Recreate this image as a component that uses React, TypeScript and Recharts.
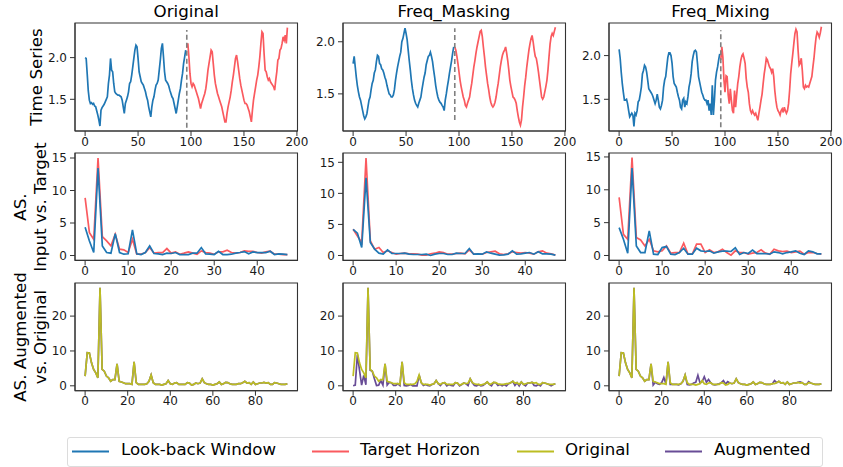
import React from 'react';
import { LineChart, Line, XAxis, YAxis, ReferenceArea, ReferenceLine } from 'recharts';

// ---- time series (look-back 0..95, target 96..191) ----
const tsOrigLookback = [
  2.0, 1.99, 1.8, 1.6, 1.49, 1.45, 1.46, 1.44, 1.45, 1.42, 1.41, 1.36, 1.31, 1.25, 1.18, 1.37, 1.4, 1.42, 1.44, 1.47,
  1.5, 1.53, 1.69, 1.79, 1.99, 1.85, 1.83, 1.69, 1.59, 1.57, 1.56, 1.55, 1.55, 1.54, 1.53, 1.49, 1.41, 1.33, 1.45, 1.49,
  1.53, 1.59, 1.69, 1.71, 1.79, 1.89, 1.99, 2.09, 2.15, 2.13, 1.99, 1.83, 1.77, 1.71, 1.69, 1.67, 1.63, 1.59, 1.53, 1.49,
  1.41, 1.35, 1.29, 1.41, 1.49, 1.53, 1.61, 1.67, 1.69, 1.73, 1.85, 1.97, 2.11, 2.17, 2.01, 1.83, 1.73, 1.71, 1.69, 1.66,
  1.61, 1.57, 1.53, 1.51, 1.45, 1.39, 1.33, 1.41, 1.49, 1.57, 1.63, 1.73, 1.81, 1.93, 2.01, 2.09,
];
const tsOrigTarget = [
  2.12, 2.17, 2.01, 1.81, 1.69, 1.65, 1.69, 1.67, 1.63, 1.59, 1.55, 1.51, 1.45, 1.39, 1.45, 1.49, 1.53, 1.57, 1.63, 1.73,
  1.85, 1.93, 2.01, 2.09, 2.07, 1.93, 1.79, 1.69, 1.63, 1.57, 1.53, 1.49, 1.45, 1.41, 1.35, 1.29, 1.23, 1.23, 1.33, 1.41,
  1.47, 1.53, 1.61, 1.71, 1.79, 1.89, 1.99, 2.03, 1.95, 1.85, 1.75, 1.67, 1.61, 1.55, 1.49, 1.45, 1.45, 1.43, 1.39, 1.35,
  1.29, 1.23, 1.37, 1.49, 1.57, 1.65, 1.73, 1.79, 1.89, 2.01, 2.17, 2.31, 2.29, 2.05, 1.85, 1.83, 1.77, 1.73, 1.75, 1.71,
  1.69, 1.67, 1.65, 1.61, 1.73, 1.83, 1.97, 1.99, 2.09, 2.11, 2.17, 2.25, 2.21, 2.27, 2.17, 2.36,
];
const tsMaskLookback = [
  1.79, 1.86, 1.76, 1.66, 1.58, 1.52, 1.47, 1.44, 1.39, 1.34, 1.29, 1.26, 1.28, 1.31, 1.375, 1.44, 1.47, 1.54, 1.6, 1.63,
  1.7, 1.73, 1.81, 1.87, 1.86, 1.79, 1.78, 1.74, 1.73, 1.7, 1.66, 1.63, 1.58, 1.54, 1.5, 1.49, 1.47, 1.47, 1.49, 1.54,
  1.63, 1.7, 1.76, 1.81, 1.86, 1.9, 2.0, 2.03, 2.08, 2.13, 2.08, 2.02, 1.92, 1.82, 1.73, 1.63, 1.55, 1.49, 1.44, 1.41,
  1.39, 1.375, 1.41, 1.44, 1.47, 1.54, 1.6, 1.66, 1.7, 1.78, 1.82, 1.86, 1.87, 1.9, 1.86, 1.81, 1.73, 1.66, 1.58, 1.52,
  1.47, 1.44, 1.42, 1.41, 1.39, 1.375, 1.34, 1.44, 1.5, 1.57, 1.63, 1.7, 1.76, 1.82, 1.89, 1.95,
];
const tsMaskTarget = [
  1.95, 1.92, 1.86, 1.79, 1.71, 1.63, 1.57, 1.52, 1.47, 1.44, 1.39, 1.375, 1.41, 1.44, 1.47, 1.54, 1.6, 1.68, 1.76, 1.82,
  1.89, 1.95, 2.0, 2.05, 2.1, 2.11, 2.05, 1.95, 1.86, 1.76, 1.68, 1.6, 1.54, 1.47, 1.42, 1.39, 1.375, 1.39, 1.42, 1.47,
  1.54, 1.6, 1.68, 1.76, 1.82, 1.87, 1.9, 1.92, 1.95, 1.89, 1.82, 1.73, 1.63, 1.57, 1.52, 1.47, 1.46, 1.44, 1.41, 1.34,
  1.28, 1.23, 1.2, 1.25, 1.375, 1.47, 1.58, 1.66, 1.76, 1.84, 1.92, 1.98, 2.03, 2.06, 2.0, 1.92, 1.86, 1.84, 1.78, 1.71,
  1.63, 1.55, 1.47, 1.45, 1.47, 1.52, 1.57, 1.63, 1.73, 1.86, 1.98, 2.05, 2.08, 2.06, 2.1, 2.14,
];
const tsMixLookback = [
  2.07, 1.97, 1.81, 1.68, 1.58, 1.49, 1.49, 1.5, 1.45, 1.37, 1.3, 1.32, 1.34, 1.32, 1.19, 1.34, 1.32, 1.37, 1.47, 1.49,
  1.56, 1.64, 1.79, 1.83, 1.89, 1.87, 1.81, 1.72, 1.62, 1.6, 1.58, 1.56, 1.53, 1.49, 1.45, 1.49, 1.56, 1.49, 1.41, 1.39,
  1.43, 1.49, 1.64, 1.72, 1.76, 1.87, 1.98, 2.03, 2.03, 2.0, 1.91, 1.76, 1.68, 1.66, 1.64, 1.58, 1.53, 1.49, 1.41, 1.39,
  1.49, 1.51, 1.41, 1.47, 1.45, 1.53, 1.64, 1.7, 1.79, 1.93, 2.0, 2.05, 2.06, 2.04, 1.91, 1.76, 1.7, 1.64, 1.58, 1.55,
  1.51, 1.49, 1.49, 1.45, 1.49, 1.37, 1.45, 1.32, 1.66, 1.32, 1.49, 1.72, 1.81, 1.87, 1.95, 2.02,
];
const tsMixTarget = [
  1.95, 2.1, 1.98, 1.72, 1.58, 1.77, 1.76, 1.55, 1.45, 1.62, 1.49, 1.37, 1.34, 1.6, 1.41, 1.55, 1.68, 1.76, 1.87, 1.95,
  2.0, 2.02, 1.97, 1.91, 1.74, 1.64, 1.58, 1.45, 1.37, 1.34, 1.37, 1.34, 1.32, 1.34, 1.3, 1.26, 1.34, 1.41, 1.49, 1.56,
  1.68, 1.79, 1.87, 1.97, 1.95, 1.91, 1.87, 1.85, 1.81, 1.85, 1.76, 1.6, 1.49, 1.41, 1.37, 1.35, 1.32, 1.37, 1.39, 1.35,
  1.41, 1.37, 1.34, 1.37, 1.45, 1.6, 1.79, 1.91, 2.02, 2.14, 2.25, 2.3, 2.27, 2.06, 1.89, 1.91, 1.97, 1.83, 1.64, 1.62,
  1.66, 1.64, 1.65, 1.64, 1.68, 1.72, 1.76, 1.87, 1.97, 2.1, 2.21, 2.27, 2.25, 2.21, 2.26, 2.33,
];
// dashed split line: x position and vertical extent per column
const splitX = 96;
const splitRange = [
  [1.16, 2.33],
  [1.25, 2.13],
  [1.18, 2.29],
];

// ---- amplitude spectra, input vs target (freq 0..47) ----
const asOrigTarget = [
  8.88, 3.52, 2.5, 15.0, 2.9, 2.24, 1.48, 3.27, 0.97, 0.87, 0.46, 2.5, 0.2, 0.2, 0.46, 1.22, 0.36, 0.46, 0.46, 1.07,
  0.36, 0.56, 0.2, 0.36, 0.56, 0.36, 0.2, 0.71, 0.46, 0.36, 0.2, 0.56, 0.56, 0.82, 0.46, 0.36, 0.46, 0.71, 0.66, 0.66,
  0.46, 0.36, 0.56, 0.66, 0.2, 0.2, 0.15, 0.15,
];
const asOrigInput = [
  4.34, 2.24, 0.46, 13.47, 1.48, 0.46, 0.36, 3.37, 0.46, 0.2, 0.26, 3.93, 0.26, 0.15, 0.46, 1.48, 0.31, 0.26, 0.15, 0.36,
  0.31, 0.46, 0.15, 0.15, 0.15, 0.36, 0.36, 1.22, 0.26, 0.2, 0.15, 0.66, 0.15, 0.15, 0.2, 0.36, 0.46, 0.61, 0.26, 0.56,
  0.46, 0.46, 0.46, 0.66, 0.15, 0.26, 0.2, 0.15,
];
const asMaskTarget = [
  4.22, 3.15, 2.08, 15.7, 2.35, 1.01, 1.28, 0.48, 0.75, 0.48, 0.21, 0.32, 0.37, 0.27, 0.27, 0.21, 0.05, 0.05, 0.27, 0.37,
  0.59, 0.48, 0.21, 0.21, 0.32, 0.37, 0.27, 0.91, 0.27, 0.21, 0.21, 0.48, 0.59, 0.69, 0.27, 0.16, 0.27, 0.59, 0.48, 0.37,
  0.48, 0.37, 0.21, 0.59, 0.75, 0.37, 0.27, 0.05,
];
const asMaskInput = [
  4.22, 3.58, 1.28, 12.5, 2.08, 1.01, 0.37, 0.21, 0.91, 0.32, 0.32, 0.32, 0.37, 0.21, 0.16, 0.16, 0.16, 0.21, 0.0, 0.21,
  0.32, 0.32, 0.16, 0.16, 0.37, 0.32, 0.32, 1.12, 0.21, 0.27, 0.21, 0.59, 0.37, 0.21, 0.05, 0.11, 0.21, 0.75, 0.21, 0.27,
  0.37, 0.48, 0.21, 0.59, 0.27, 0.27, 0.21, 0.05,
];
const asMixTarget = [
  8.84, 3.23, 2.47, 14.9, 2.73, 2.37, 1.46, 2.47, 0.71, 0.56, 0.71, 1.46, 0.35, 0.45, 0.45, 1.87, 0.2, 0.2, 1.72, 1.72,
  0.45, 0.86, 0.45, 0.56, 0.96, 0.45, 0.05, 0.71, 0.45, 0.45, 0.2, 0.35, 0.45, 0.86, 0.35, 0.2, 0.96, 0.71, 0.61, 0.66,
  0.45, 0.56, 0.66, 0.2, 0.45, 0.45, 0.3, 0.2,
];
const asMixInput = [
  4.24, 2.47, 0.35, 13.3, 1.46, 0.45, 0.45, 3.74, 0.2, 0.15, 1.21, 1.36, 0.2, 0.15, 0.45, 1.11, 0.2, 0.2, 1.11, 0.71,
  0.61, 0.71, 0.35, 0.56, 0.66, 0.66, 0.61, 1.16, 0.15, 0.45, 0.3, 0.81, 0.3, 0.3, 0.3, 0.2, 0.56, 0.45, 0.25, 0.45,
  0.56, 0.71, 0.35, 0.15, 0.71, 0.56, 0.25, 0.25,
];

// ---- amplitude spectra, augmented vs original (freq 0..95) ----
const asFullOriginal = [
  2.78, 9.5, 9.4, 6.6, 4.7, 3.7, 2.3, 28.1, 4.7, 4.2, 2.8, 2.3, 1.3, 1.8, 1.8, 6.3, 1.3, 1.1, 0.9, 0.6,
  0.6, 0.6, 0.4, 6.9, 0.9, 0.4, 0.4, 0.4, 0.4, 0.6, 1.3, 3.1, 0.9, 0.4, 0.4, 0.4, 0.2, 0.4, 0.6, 1.5,
  0.6, 0.4, 0.8, 0.9, 0.4, 0.4, 0.4, 0.4, 0.9, 0.8, 0.2, 0.4, 0.8, 0.6, 0.8, 2.0, 0.9, 0.6, 0.4, 0.4,
  0.2, 0.4, 0.6, 1.1, 0.4, 0.6, 1.0, 0.9, 0.6, 0.4, 0.4, 0.4, 0.6, 0.6, 0.9, 1.3, 0.8, 0.9, 0.4, 1.1,
  0.4, 0.6, 0.8, 0.8, 1.0, 0.8, 0.9, 0.4, 0.4, 0.9, 0.8, 0.6, 0.4, 0.4, 0.4, 0.6,
];
const asFullMasked = [
  0.0, 0.2, 9.0, 4.5, 0.2, 3.0, 0.3, 28.1, 4.5, 4.2, 2.0, 0.1, 0.2, 1.5, 0.2, 6.3, 0.2, 1.0, 0.9, 0.1,
  0.1, 0.6, 0.1, 6.9, 0.1, 0.0, 0.1, 0.4, 0.0, 0.0, 0.0, 3.1, 0.9, 0.1, 0.4, 0.1, 0.0, 0.4, 0.6, 1.5,
  0.6, 0.1, 0.8, 0.9, 0.0, 0.4, 0.1, 0.0, 0.9, 0.8, 0.0, 0.4, 0.8, 0.6, 0.1, 2.0, 0.9, 0.1, 0.0, 0.4,
  0.0, 0.1, 0.6, 1.1, 0.4, 0.0, 1.0, 0.9, 0.1, 0.4, 0.0, 0.4, 0.0, 0.6, 0.9, 1.3, 0.1, 0.9, 0.0, 1.1,
  0.4, 0.0, 0.8, 0.8, 1.0, 0.1, 0.0, 0.4, 0.0, 0.9, 0.8, 0.6, 0.4, 0.0, 0.4, 0.6,
];
const asFullMixed = [
  2.78, 9.5, 9.4, 6.6, 4.7, 3.7, 2.3, 28.1, 4.7, 4.2, 2.8, 2.3, 1.3, 1.8, 1.8, 6.3, 0.2, 1.0, 0.6, 0.4,
  0.9, 2.4, 0.5, 6.9, 0.4, 0.4, 0.4, 0.4, 0.3, 0.6, 1.3, 3.1, 0.4, 0.3, 0.4, 0.8, 1.0, 3.0, 0.8, 1.2,
  2.6, 1.0, 1.8, 0.9, 0.4, 0.3, 0.4, 0.6, 0.9, 1.5, 0.5, 1.2, 0.8, 0.6, 0.8, 2.0, 0.9, 0.6, 0.4, 0.4,
  0.2, 0.4, 0.6, 1.1, 0.4, 0.6, 1.0, 0.9, 0.6, 0.4, 0.4, 0.4, 0.6, 1.5, 0.9, 1.3, 0.8, 0.9, 0.4, 1.1,
  0.4, 0.6, 0.8, 0.8, 1.0, 1.1, 0.9, 0.4, 0.4, 1.2, 0.8, 0.6, 0.4, 0.4, 0.4, 0.6,
];

const columnTitles = ['Original', 'Freq_Masking', 'Freq_Mixing'];
const rowLabels = ['Time Series', 'AS.\nInput vs. Target', 'AS. Augmented\nvs. Original'];
const tsXTicks = [0, 50, 100, 150, 200];
const tsYTicks = [1.5, 2.0];
const asInXTicks = [0, 10, 20, 30, 40];
const asInYTicks = [0, 5, 10, 15];
const asFullXTicks = [0, 20, 40, 60, 80];
const asFullYTicks = [0, 10, 20];

const BLUE = '#1f77b4';
const RED = '#fa5a5f';
const OLIVE = '#bcbd22';
const PURPLE = '#684c96';
const FONT = '"DejaVu Sans", Verdana, sans-serif';

const toPoints = (ys: number[], start = 0) => ys.map((y, i) => ({ x: start + i, y }));

const colLeft = [75, 342.7, 609.3];
const plotW = 222.5;
const rowTop = [22.7, 153.3, 283.3];
const rowH = [108, 107.4, 107.7];

interface Series {
  data: { x: number; y: number }[];
  color: string;
}

interface PanelProps {
  col: number;
  row: number;
  xDomain: [number, number];
  yDomain: [number, number];
  xTicks: number[];
  yTicks: number[];
  series: Series[];
  decimals?: number;
  split?: number[];
}

const Y_W = 40;
const M_TOP = 8;
const M_RIGHT = 16;
const X_H = 25;

function Panel({ col, row, xDomain, yDomain, xTicks, yTicks, series, decimals = 0, split }: PanelProps) {
  const h = rowH[row];
  const tick = { fontSize: 12, fill: '#1a1a1a', fontFamily: FONT };
  return (
    <div style={{ position: 'absolute', left: colLeft[col] - Y_W, top: rowTop[row] - M_TOP }}>
      <LineChart
        width={Y_W + plotW + M_RIGHT}
        height={M_TOP + h + X_H}
        margin={{ top: M_TOP, right: M_RIGHT, bottom: 0, left: 0 }}
      >
        <XAxis
          type="number"
          dataKey="x"
          domain={xDomain}
          ticks={xTicks}
          interval={0}
          allowDataOverflow
          height={X_H}
          tickSize={5}
          tickMargin={1}
          tick={tick}
          stroke="#333"
        />
        <YAxis
          type="number"
          dataKey="y"
          domain={yDomain}
          ticks={yTicks}
          interval={0}
          allowDataOverflow
          width={Y_W}
          tickSize={5}
          tickMargin={3}
          tick={tick}
          stroke="#333"
          tickFormatter={(v: number) => v.toFixed(decimals)}
        />
        {series.map((s, i) => (
          <Line
            key={i}
            data={s.data}
            dataKey="y"
            type="linear"
            stroke={s.color}
            strokeWidth={1.7}
            dot={false}
            activeDot={false}
            isAnimationActive={false}
          />
        ))}
        {split && (
          <ReferenceLine
            segment={[
              { x: splitX, y: split[0] },
              { x: splitX, y: split[1] },
            ]}
            stroke="#808080"
            strokeWidth={1.6}
            strokeDasharray="5 3"
          />
        )}
        <ReferenceArea
          x1={xDomain[0]}
          x2={xDomain[1]}
          y1={yDomain[0]}
          y2={yDomain[1]}
          fill="none"
          fillOpacity={0}
          stroke="#333"
          strokeWidth={1.1}
        />
      </LineChart>
    </div>
  );
}

const tsDomains: [number, number][] = [
  [1.12, 2.415],
  [1.144, 2.18],
  [1.137, 2.373],
];
const asInDomains: [number, number][] = [
  [-0.75, 15.77],
  [-0.79, 16.5],
  [-0.745, 15.6],
];
const asFullDomain: [number, number] = [-1.4, 29.5];

const tsData = [
  [tsOrigLookback, tsOrigTarget],
  [tsMaskLookback, tsMaskTarget],
  [tsMixLookback, tsMixTarget],
];
const asInData = [
  [asOrigInput, asOrigTarget],
  [asMaskInput, asMaskTarget],
  [asMixInput, asMixTarget],
];
const asAugData = [asFullOriginal, asFullMasked, asFullMixed];

const legendItems = [
  { label: 'Look-back Window', color: BLUE, line: 71.7, text: 121 },
  { label: 'Target Horizon', color: RED, line: 311.7, text: 360 },
  { label: 'Original', color: OLIVE, line: 516.5, text: 565 },
  { label: 'Augmented', color: PURPLE, line: 665, text: 714 },
];

export default function App() {
  return (
    <div
      style={{
        position: 'absolute',
        left: 0,
        top: 0,
        width: 843,
        height: 467,
        background: '#fff',
        fontFamily: FONT,
        color: '#000',
        overflow: 'hidden',
      }}
    >
      {columnTitles.map((t, c) => (
        <div
          key={t}
          style={{
            position: 'absolute',
            left: colLeft[c],
            width: plotW,
            top: 3.4,
            textAlign: 'center',
            fontSize: 16.7,
            lineHeight: '16.7px',
          }}
        >
          {t}
        </div>
      ))}

      {rowLabels.map((t, r) => {
        const two = t.includes('\n');
        const cx = two ? 29.5 : 36.8;
        const cy = rowTop[r] + rowH[r] / 2;
        return (
          <div
            key={r}
            style={{
              position: 'absolute',
              left: cx,
              top: cy,
              transform: 'translate(-50%, -50%) rotate(-90deg)',
              whiteSpace: 'pre',
              textAlign: 'center',
              fontSize: 16.7,
              lineHeight: two ? '20px' : '19.5px',
            }}
          >
            {t}
          </div>
        );
      })}

      {[0, 1, 2].map((c) => (
        <React.Fragment key={c}>
          <Panel
            col={c}
            row={0}
            xDomain={[-9.55, 200.55]}
            yDomain={tsDomains[c]}
            xTicks={tsXTicks}
            yTicks={tsYTicks}
            decimals={1}
            split={splitRange[c]}
            series={[
              { data: toPoints(tsData[c][0]), color: BLUE },
              { data: toPoints(tsData[c][1], 96), color: RED },
            ]}
          />
          <Panel
            col={c}
            row={1}
            xDomain={[-2.35, 49.35]}
            yDomain={asInDomains[c]}
            xTicks={asInXTicks}
            yTicks={asInYTicks}
            series={[
              { data: toPoints(asInData[c][1]), color: RED },
              { data: toPoints(asInData[c][0]), color: BLUE },
            ]}
          />
          <Panel
            col={c}
            row={2}
            xDomain={[-4.75, 99.75]}
            yDomain={asFullDomain}
            xTicks={asFullXTicks}
            yTicks={asFullYTicks}
            series={[
              { data: toPoints(asAugData[c]), color: PURPLE },
              { data: toPoints(asFullOriginal), color: OLIVE },
            ]}
          />
        </React.Fragment>
      ))}

      <div
        style={{
          position: 'absolute',
          left: 66.7,
          top: 437.3,
          width: 756,
          height: 30,
          border: '1px solid #dcdcdc',
          borderRadius: 3,
          boxSizing: 'border-box',
          background: '#fff',
        }}
      />
      {legendItems.map((it) => (
        <React.Fragment key={it.label}>
          <svg style={{ position: 'absolute', left: it.line, top: 449.5 }} width={37} height={3}>
            <line x1={0} y1={1.5} x2={37} y2={1.5} stroke={it.color} strokeWidth={2} />
          </svg>
          <div
            style={{
              position: 'absolute',
              left: it.text,
              top: 442,
              fontSize: 16.6,
              lineHeight: '16.6px',
              whiteSpace: 'nowrap',
            }}
          >
            {it.label}
          </div>
        </React.Fragment>
      ))}
    </div>
  );
}
